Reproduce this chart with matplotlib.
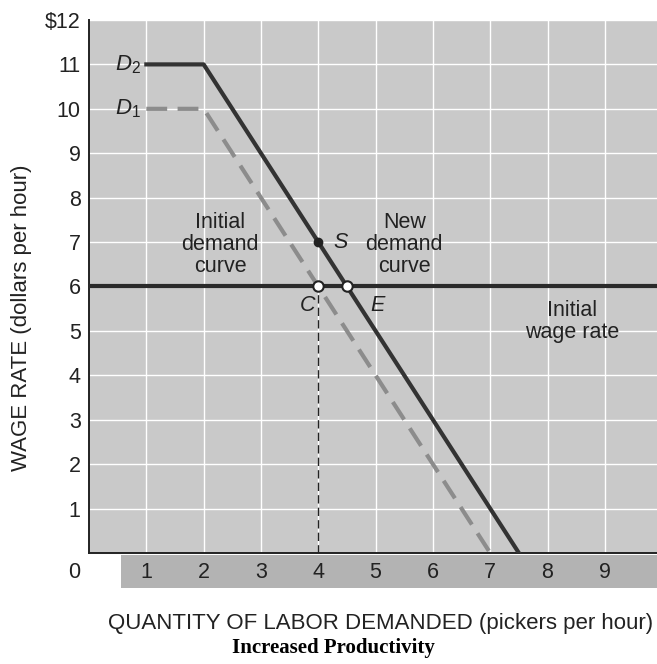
import matplotlib
matplotlib.use("Agg")
import matplotlib.pyplot as plt
from matplotlib.patches import Rectangle

plt.rcParams["font.family"] = "Liberation Sans"
plt.rcParams["mathtext.fontset"] = "custom"
plt.rcParams["mathtext.rm"] = "Liberation Sans"
plt.rcParams["mathtext.it"] = "Liberation Sans:italic"

# demand curves: flat top, then linear down to the x axis
d1_x = [1, 2, 7]
d1_y = [10, 10, 0]
d2_x = [1, 2, 7.5]
d2_y = [11, 11, 0]
wage = 6
point_s = (4, 7)
point_c = (4, 6)
point_e = (4.5, 6)
x_ticks = [1, 2, 3, 4, 5, 6, 7, 8, 9]
y_ticks = [1, 2, 3, 4, 5, 6, 7, 8, 9, 10, 11]

BG = "#c9c9c9"
BAND = "#b3b3b3"
DARK = "#333333"
MID = "#8c8c8c"
INK = "#222222"

fig = plt.figure(figsize=(6.57, 6.64), dpi=100)
ax = fig.add_axes([0.1355, 0.1672, 0.8645, 0.8027])
ax.set_xlim(0, 9.91)
ax.set_ylim(0, 12)
ax.set_facecolor(BG)
for s in ("top", "right"):
    ax.spines[s].set_visible(False)
for s in ("left", "bottom"):
    ax.spines[s].set_color(INK)
    ax.spines[s].set_linewidth(1.4)

ax.set_xticks(x_ticks)
ax.set_yticks(y_ticks + [12])
ax.grid(True, color="white", lw=1.0)
ax.set_axisbelow(True)
ax.tick_params(length=0)
ax.set_xticklabels([])
ax.set_yticklabels([str(v) for v in y_ticks] + ["$12"], fontsize=15.5, color=INK)
ax.tick_params(axis="y", pad=6)

# tick band below the x axis
ax.add_patch(Rectangle((0.55, -0.05), 9.5, -0.74, facecolor=BAND, edgecolor="none",
                       clip_on=False, transform=ax.transData))
for v in x_ticks:
    ax.text(v, -0.43, str(v), ha="center", va="center", fontsize=15.5, color=INK,
            clip_on=False)
ax.text(-0.16, -0.43, "0", ha="right", va="center", fontsize=15.5, color=INK)

# wage line and curves
ax.axhline(wage, color="#2a2a2a", lw=3, zorder=3)
ax.plot(d1_x, d1_y, color=MID, lw=3, dashes=(5, 2.5), zorder=4)
ax.plot(d2_x, d2_y, color=DARK, lw=3, zorder=5)
ax.plot([point_c[0], point_c[0]], [0, point_c[1]], color=INK, lw=1, dashes=(6, 3), zorder=2)

ax.plot(*point_s, "o", color=INK, ms=6, zorder=6)
for p in (point_c, point_e):
    ax.plot(*p, "o", mfc="white", mec=INK, mew=1.5, ms=7.5, zorder=7)

tkw = dict(fontsize=15.5, color=INK)
ax.text(0.68, 11, "$D_2$", ha="center", va="center", fontsize=16, color=INK)
ax.text(0.68, 10, "$D_1$", ha="center", va="center", fontsize=16, color=INK)
ax.text(4.26, 6.98, "S", style="italic", ha="left", va="center", **tkw)
ax.text(3.94, 5.58, "C", style="italic", ha="right", va="center", **tkw)
ax.text(4.9, 5.58, "E", style="italic", ha="left", va="center", **tkw)
ax.text(2.29, 6.95, "Initial\ndemand\ncurve", ha="center", va="center", linespacing=1.05, **tkw)
ax.text(5.5, 6.95, "New\ndemand\ncurve", ha="center", va="center", linespacing=1.05, **tkw)
ax.text(8.43, 5.22, "Initial\nwage rate", ha="center", va="center", linespacing=1.05, **tkw)

fig.text(0.033, 0.521, "WAGE RATE (dollars per hour)", rotation=90, ha="center", va="center",
         fontsize=16, color=INK)
fig.text(0.58, 0.0617, "QUANTITY OF LABOR DEMANDED (pickers per hour)", ha="center",
         va="center", fontsize=16, color=INK)
fig.text(0.507, 0.024, "Increased Productivity", ha="center", va="center",
         fontsize=15, fontweight="bold", family="Liberation Serif", color="black")

fig.savefig("out.png", dpi=100, facecolor="white")
